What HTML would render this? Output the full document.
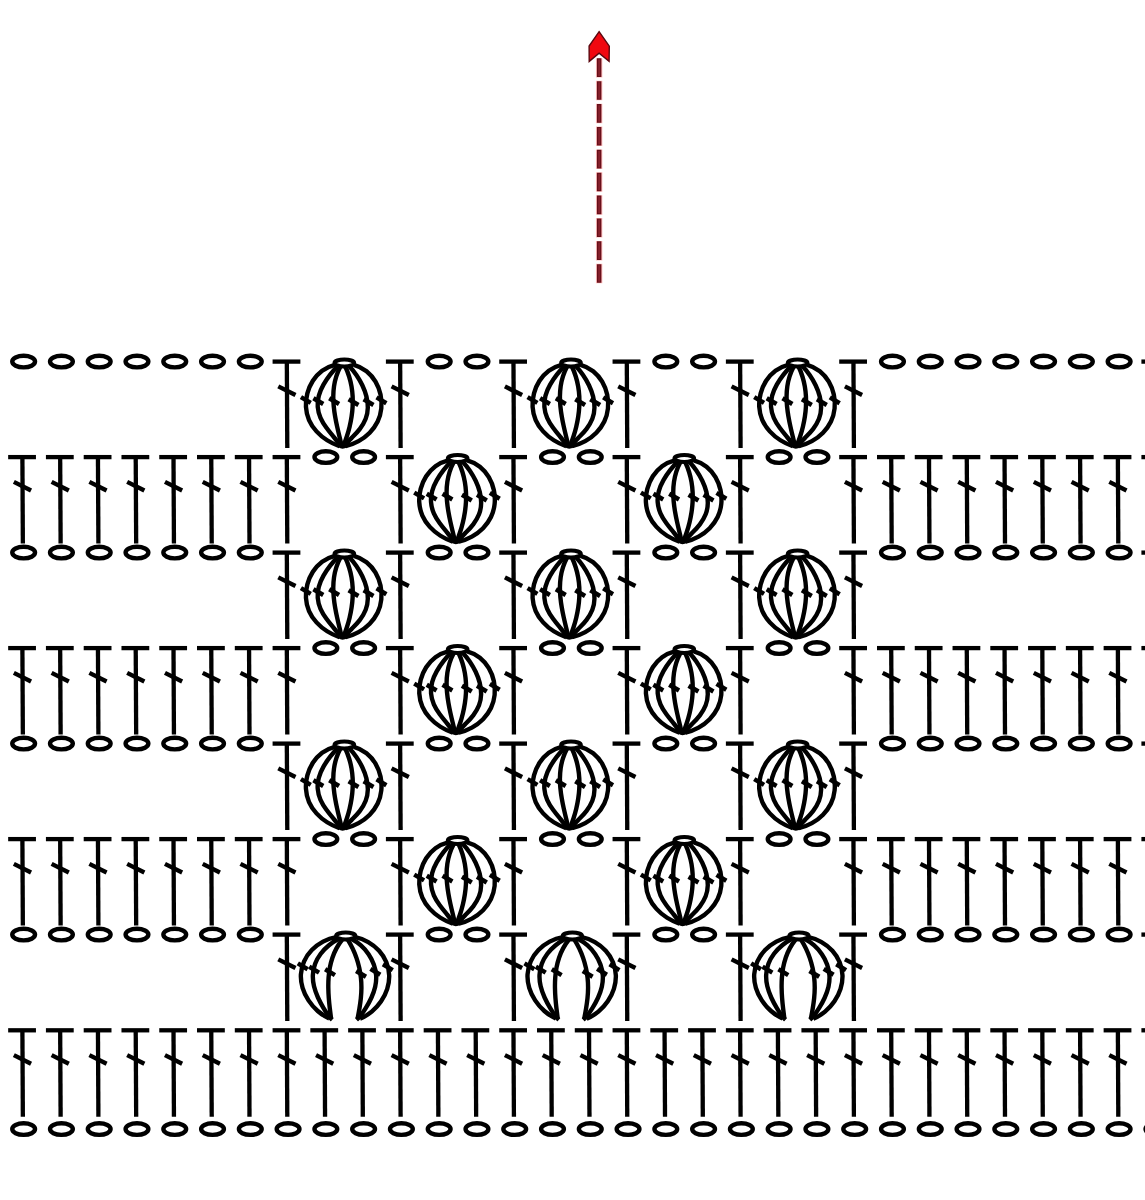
<!DOCTYPE html>
<html><head><meta charset="utf-8"><title>Crochet diagram</title>
<style>
html,body{margin:0;padding:0;background:#fff;font-family:"Liberation Sans",sans-serif;}
svg{display:block}
</style></head>
<body>
<svg width="1145" height="1200" viewBox="0 0 1145 1200">
<rect width="1145" height="1200" fill="#fff"/>
<defs>
<g id="T" stroke="#000" fill="none">
<line x1="-14.7" y1="0" x2="13.1" y2="0" stroke-width="4.3"/>
<line x1="-0.45" y1="0" x2="0" y2="86.4" stroke-width="4.3"/>
<line x1="-9" y1="24.8" x2="8.2" y2="33.4" stroke-width="4.4"/>
</g>
<ellipse id="C" cx="0" cy="0" rx="11.4" ry="5.8" stroke="#000" stroke-width="4.4" fill="none"/>
<g id="tk"><line x1="-4.9" y1="-2.9" x2="4.9" y2="2.9" stroke="#000" stroke-width="4.5"/></g>
<g id="P" stroke="#000" fill="none" stroke-width="4.4">
<ellipse cx="0" cy="1.4" rx="9.8" ry="3.5" stroke-width="4.1"/>
<path d="M-9.50,3.20 C-14.26,4.35 -18.51,6.42 -22.19,9.17 C-25.88,11.92 -28.99,15.34 -31.48,19.19 C-33.96,23.04 -35.82,27.31 -36.99,31.75 C-38.17,36.19 -38.65,40.80 -38.39,45.33 C-38.13,49.86 -37.11,54.30 -35.31,58.42 C-33.50,62.54 -30.93,66.36 -27.84,69.76 C-24.75,73.16 -21.13,76.16 -17.21,78.65 C-13.29,81.14 -9.08,83.12 -4.80,84.50"/>
<path d="M-7.00,4.60 C-9.28,7.14 -11.74,10.01 -14.14,13.11 C-16.54,16.22 -18.86,19.57 -20.84,23.08 C-22.82,26.59 -24.46,30.25 -25.49,33.98 C-26.53,37.71 -26.91,41.52 -26.61,45.27 C-26.32,49.03 -25.37,52.71 -23.83,56.19 C-22.30,59.67 -20.22,62.98 -17.90,66.16 C-15.59,69.34 -13.02,72.39 -10.55,75.38 C-8.07,78.38 -5.69,81.36 -3.80,84.50"/>
<path d="M-4.00,5.20 C-5.68,8.36 -7.02,11.56 -8.05,14.80 C-9.09,18.04 -9.82,21.32 -10.31,24.62 C-10.79,27.92 -11.02,31.25 -11.06,34.59 C-11.09,37.94 -10.92,41.30 -10.60,44.66 C-10.28,48.02 -9.81,51.39 -9.23,54.75 C-8.66,58.11 -7.98,61.46 -7.25,64.79 C-6.51,68.13 -5.73,71.45 -4.94,74.73 C-4.15,78.02 -3.35,81.28 -2.60,84.50"/>
<path d="M1.00,5.20 C2.50,8.38 3.75,11.60 4.77,14.87 C5.79,18.13 6.59,21.44 7.17,24.76 C7.75,28.09 8.12,31.45 8.30,34.81 C8.48,38.18 8.47,41.55 8.28,44.93 C8.10,48.31 7.74,51.68 7.23,55.04 C6.72,58.40 6.06,61.74 5.26,65.06 C4.46,68.37 3.52,71.66 2.48,74.90 C1.43,78.15 0.26,81.35 -1.00,84.50"/>
<path d="M5.00,4.60 C7.42,7.19 9.81,10.15 12.02,13.36 C14.23,16.57 16.26,20.04 17.98,23.65 C19.70,27.26 21.11,31.02 22.07,34.81 C23.03,38.61 23.54,42.45 23.47,46.21 C23.40,49.98 22.73,53.67 21.35,57.19 C19.98,60.72 17.95,64.07 15.57,67.21 C13.19,70.34 10.43,73.22 7.68,75.95 C4.93,78.69 2.24,81.36 0.20,84.50"/>
<path d="M9.50,3.20 C14.33,4.49 18.58,6.71 22.20,9.60 C25.83,12.50 28.83,16.06 31.17,20.04 C33.51,24.02 35.19,28.42 36.17,32.96 C37.15,37.50 37.43,42.19 36.97,46.77 C36.50,51.35 35.30,55.82 33.32,59.92 C31.34,64.02 28.62,67.77 25.38,71.07 C22.13,74.37 18.35,77.21 14.25,79.48 C10.15,81.75 5.73,83.46 1.20,84.50"/>
<path d="M-10.5,81.5 Q-6,87.2 -1.8,87.2 Q3,87.2 6.8,82 Z" fill="#000" stroke="none"/>
<use href="#tk" x="-38.5" y="38.4"/>
<use href="#tk" x="-26" y="39.5"/>
<use href="#tk" x="-10.2" y="39.5"/>
<use href="#tk" x="9.2" y="40.5"/>
<use href="#tk" x="24.2" y="40.5"/>
<use href="#tk" x="37.1" y="38.7"/>
</g>
<g id="Q" stroke="#000" fill="none" stroke-width="4.4">
<ellipse cx="0" cy="1.4" rx="9.6" ry="3.5" stroke-width="4.1"/>
<path d="M-9.50,2.60 C-14.08,3.33 -18.57,4.88 -22.72,7.08 C-26.88,9.28 -30.70,12.13 -33.93,15.47 C-37.17,18.80 -39.79,22.63 -41.64,26.75 C-43.49,30.88 -44.58,35.29 -44.84,39.77 C-45.09,44.25 -44.48,48.79 -43.16,53.19 C-41.84,57.60 -39.80,61.87 -37.22,65.81 C-34.64,69.74 -31.52,73.34 -28.01,76.40 C-24.50,79.47 -20.61,82.00 -16.50,83.80"/>
<path d="M-7.00,4.20 C-10.38,5.98 -13.70,8.16 -16.77,10.68 C-19.83,13.20 -22.65,16.06 -25.02,19.17 C-27.39,22.29 -29.30,25.68 -30.61,29.24 C-31.93,32.80 -32.68,36.54 -32.86,40.32 C-33.04,44.11 -32.62,47.93 -31.72,51.71 C-30.82,55.49 -29.45,59.23 -27.80,62.87 C-26.15,66.51 -24.22,70.05 -22.19,73.43 C-20.16,76.80 -18.04,80.01 -16.00,83.00"/>
<path d="M-3.50,5.00 C-5.75,7.81 -7.66,10.74 -9.29,13.76 C-10.91,16.78 -12.24,19.90 -13.32,23.09 C-14.40,26.27 -15.24,29.53 -15.86,32.85 C-16.48,36.16 -16.90,39.52 -17.14,42.92 C-17.39,46.31 -17.47,49.74 -17.42,53.17 C-17.37,56.61 -17.20,60.05 -16.94,63.49 C-16.68,66.92 -16.34,70.35 -15.95,73.74 C-15.56,77.13 -15.13,80.49 -14.70,83.80"/>
<path d="M2.00,5.00 C3.83,7.95 5.48,10.97 6.94,14.06 C8.41,17.15 9.69,20.31 10.79,23.51 C11.89,26.72 12.81,29.98 13.54,33.28 C14.27,36.57 14.81,39.91 15.17,43.26 C15.53,46.62 15.70,50.00 15.68,53.40 C15.66,56.79 15.44,60.19 15.10,63.59 C14.75,66.99 14.27,70.38 13.71,73.75 C13.16,77.13 12.53,80.48 11.90,83.80"/>
<path d="M5.50,4.20 C9.00,6.02 12.24,8.28 15.16,10.88 C18.07,13.49 20.66,16.43 22.83,19.62 C25.01,22.81 26.78,26.24 28.07,29.81 C29.36,33.38 30.16,37.09 30.41,40.84 C30.65,44.59 30.30,48.38 29.45,52.12 C28.59,55.87 27.26,59.58 25.63,63.18 C23.99,66.78 22.06,70.27 19.99,73.60 C17.93,76.93 15.74,80.08 13.60,83.00"/>
<path d="M9.50,2.60 C14.03,3.51 18.44,5.19 22.50,7.50 C26.56,9.81 30.26,12.74 33.35,16.15 C36.45,19.56 38.92,23.47 40.63,27.65 C42.35,31.84 43.32,36.29 43.46,40.79 C43.60,45.29 42.90,49.83 41.50,54.21 C40.10,58.59 38.01,62.82 35.38,66.68 C32.74,70.55 29.57,74.06 26.01,77.01 C22.44,79.96 18.49,82.36 14.30,84.00"/>
<path d="M-19.5,81.5 L-15,86 L-12.8,83.5 Z" fill="#000" stroke-width="1.2" stroke-linejoin="round"/>
<path d="M17,81.5 L12.3,86 L10,83.5 Z" fill="#000" stroke-width="1.2" stroke-linejoin="round"/>
<use href="#tk" x="-43" y="31.7"/>
<use href="#tk" x="-31.6" y="35.1"/>
<use href="#tk" x="-15.7" y="37.6"/>
<use href="#tk" x="15.3" y="39.3"/>
<use href="#tk" x="29.6" y="37.2"/>
<use href="#tk" x="42.1" y="32.6"/>
</g>
</defs>
<g>
<use href="#C" x="23.65" y="361.6"/>
<use href="#C" x="61.42" y="361.6"/>
<use href="#C" x="99.20" y="361.6"/>
<use href="#C" x="136.97" y="361.6"/>
<use href="#C" x="174.75" y="361.6"/>
<use href="#C" x="212.53" y="361.6"/>
<use href="#C" x="250.30" y="361.6"/>
<use href="#C" x="439.18" y="361.6"/>
<use href="#C" x="476.95" y="361.6"/>
<use href="#C" x="665.82" y="361.6"/>
<use href="#C" x="703.60" y="361.6"/>
<use href="#C" x="892.47" y="361.6"/>
<use href="#C" x="930.25" y="361.6"/>
<use href="#C" x="968.02" y="361.6"/>
<use href="#C" x="1005.80" y="361.6"/>
<use href="#C" x="1043.57" y="361.6"/>
<use href="#C" x="1081.35" y="361.6"/>
<use href="#C" x="1119.12" y="361.6"/>
<use href="#T" x="287.28" y="361.6"/>
<use href="#T" x="400.60" y="361.6"/>
<use href="#T" x="513.92" y="361.6"/>
<use href="#T" x="627.25" y="361.6"/>
<use href="#T" x="740.58" y="361.6"/>
<use href="#T" x="853.90" y="361.6"/>
<use href="#T" x="1156.10" y="361.6"/>
<use href="#P" x="344.34" y="361.6"/>
<use href="#P" x="570.99" y="361.6"/>
<use href="#P" x="797.64" y="361.6"/>
<use href="#T" x="22.85" y="457.1"/>
<use href="#T" x="60.62" y="457.1"/>
<use href="#T" x="98.40" y="457.1"/>
<use href="#T" x="136.17" y="457.1"/>
<use href="#T" x="173.95" y="457.1"/>
<use href="#T" x="211.72" y="457.1"/>
<use href="#T" x="249.50" y="457.1"/>
<use href="#T" x="287.28" y="457.1"/>
<use href="#T" x="400.60" y="457.1"/>
<use href="#T" x="513.92" y="457.1"/>
<use href="#T" x="627.25" y="457.1"/>
<use href="#T" x="740.58" y="457.1"/>
<use href="#T" x="853.90" y="457.1"/>
<use href="#T" x="891.67" y="457.1"/>
<use href="#T" x="929.45" y="457.1"/>
<use href="#T" x="967.23" y="457.1"/>
<use href="#T" x="1005.00" y="457.1"/>
<use href="#T" x="1042.77" y="457.1"/>
<use href="#T" x="1080.55" y="457.1"/>
<use href="#T" x="1118.32" y="457.1"/>
<use href="#T" x="1156.10" y="457.1"/>
<use href="#C" x="325.85" y="457.1"/>
<use href="#C" x="363.62" y="457.1"/>
<use href="#C" x="552.50" y="457.1"/>
<use href="#C" x="590.27" y="457.1"/>
<use href="#C" x="779.15" y="457.1"/>
<use href="#C" x="816.92" y="457.1"/>
<use href="#P" x="457.66" y="457.1"/>
<use href="#P" x="684.31" y="457.1"/>
<use href="#C" x="23.65" y="552.6"/>
<use href="#C" x="61.42" y="552.6"/>
<use href="#C" x="99.20" y="552.6"/>
<use href="#C" x="136.97" y="552.6"/>
<use href="#C" x="174.75" y="552.6"/>
<use href="#C" x="212.53" y="552.6"/>
<use href="#C" x="250.30" y="552.6"/>
<use href="#C" x="439.18" y="552.6"/>
<use href="#C" x="476.95" y="552.6"/>
<use href="#C" x="665.82" y="552.6"/>
<use href="#C" x="703.60" y="552.6"/>
<use href="#C" x="892.47" y="552.6"/>
<use href="#C" x="930.25" y="552.6"/>
<use href="#C" x="968.02" y="552.6"/>
<use href="#C" x="1005.80" y="552.6"/>
<use href="#C" x="1043.57" y="552.6"/>
<use href="#C" x="1081.35" y="552.6"/>
<use href="#C" x="1119.12" y="552.6"/>
<use href="#T" x="287.28" y="552.6"/>
<use href="#T" x="400.60" y="552.6"/>
<use href="#T" x="513.92" y="552.6"/>
<use href="#T" x="627.25" y="552.6"/>
<use href="#T" x="740.58" y="552.6"/>
<use href="#T" x="853.90" y="552.6"/>
<use href="#T" x="1156.10" y="552.6"/>
<use href="#P" x="344.34" y="552.6"/>
<use href="#P" x="570.99" y="552.6"/>
<use href="#P" x="797.64" y="552.6"/>
<use href="#T" x="22.85" y="648.1"/>
<use href="#T" x="60.62" y="648.1"/>
<use href="#T" x="98.40" y="648.1"/>
<use href="#T" x="136.17" y="648.1"/>
<use href="#T" x="173.95" y="648.1"/>
<use href="#T" x="211.72" y="648.1"/>
<use href="#T" x="249.50" y="648.1"/>
<use href="#T" x="287.28" y="648.1"/>
<use href="#T" x="400.60" y="648.1"/>
<use href="#T" x="513.92" y="648.1"/>
<use href="#T" x="627.25" y="648.1"/>
<use href="#T" x="740.58" y="648.1"/>
<use href="#T" x="853.90" y="648.1"/>
<use href="#T" x="891.67" y="648.1"/>
<use href="#T" x="929.45" y="648.1"/>
<use href="#T" x="967.23" y="648.1"/>
<use href="#T" x="1005.00" y="648.1"/>
<use href="#T" x="1042.77" y="648.1"/>
<use href="#T" x="1080.55" y="648.1"/>
<use href="#T" x="1118.32" y="648.1"/>
<use href="#T" x="1156.10" y="648.1"/>
<use href="#C" x="325.85" y="648.1"/>
<use href="#C" x="363.62" y="648.1"/>
<use href="#C" x="552.50" y="648.1"/>
<use href="#C" x="590.27" y="648.1"/>
<use href="#C" x="779.15" y="648.1"/>
<use href="#C" x="816.92" y="648.1"/>
<use href="#P" x="457.66" y="648.1"/>
<use href="#P" x="684.31" y="648.1"/>
<use href="#C" x="23.65" y="743.6"/>
<use href="#C" x="61.42" y="743.6"/>
<use href="#C" x="99.20" y="743.6"/>
<use href="#C" x="136.97" y="743.6"/>
<use href="#C" x="174.75" y="743.6"/>
<use href="#C" x="212.53" y="743.6"/>
<use href="#C" x="250.30" y="743.6"/>
<use href="#C" x="439.18" y="743.6"/>
<use href="#C" x="476.95" y="743.6"/>
<use href="#C" x="665.82" y="743.6"/>
<use href="#C" x="703.60" y="743.6"/>
<use href="#C" x="892.47" y="743.6"/>
<use href="#C" x="930.25" y="743.6"/>
<use href="#C" x="968.02" y="743.6"/>
<use href="#C" x="1005.80" y="743.6"/>
<use href="#C" x="1043.57" y="743.6"/>
<use href="#C" x="1081.35" y="743.6"/>
<use href="#C" x="1119.12" y="743.6"/>
<use href="#T" x="287.28" y="743.6"/>
<use href="#T" x="400.60" y="743.6"/>
<use href="#T" x="513.92" y="743.6"/>
<use href="#T" x="627.25" y="743.6"/>
<use href="#T" x="740.58" y="743.6"/>
<use href="#T" x="853.90" y="743.6"/>
<use href="#T" x="1156.10" y="743.6"/>
<use href="#P" x="344.34" y="743.6"/>
<use href="#P" x="570.99" y="743.6"/>
<use href="#P" x="797.64" y="743.6"/>
<use href="#T" x="22.85" y="839.1"/>
<use href="#T" x="60.62" y="839.1"/>
<use href="#T" x="98.40" y="839.1"/>
<use href="#T" x="136.17" y="839.1"/>
<use href="#T" x="173.95" y="839.1"/>
<use href="#T" x="211.72" y="839.1"/>
<use href="#T" x="249.50" y="839.1"/>
<use href="#T" x="287.28" y="839.1"/>
<use href="#T" x="400.60" y="839.1"/>
<use href="#T" x="513.92" y="839.1"/>
<use href="#T" x="627.25" y="839.1"/>
<use href="#T" x="740.58" y="839.1"/>
<use href="#T" x="853.90" y="839.1"/>
<use href="#T" x="891.67" y="839.1"/>
<use href="#T" x="929.45" y="839.1"/>
<use href="#T" x="967.23" y="839.1"/>
<use href="#T" x="1005.00" y="839.1"/>
<use href="#T" x="1042.77" y="839.1"/>
<use href="#T" x="1080.55" y="839.1"/>
<use href="#T" x="1118.32" y="839.1"/>
<use href="#T" x="1156.10" y="839.1"/>
<use href="#C" x="325.85" y="839.1"/>
<use href="#C" x="363.62" y="839.1"/>
<use href="#C" x="552.50" y="839.1"/>
<use href="#C" x="590.27" y="839.1"/>
<use href="#C" x="779.15" y="839.1"/>
<use href="#C" x="816.92" y="839.1"/>
<use href="#P" x="457.66" y="839.1"/>
<use href="#P" x="684.31" y="839.1"/>
<use href="#C" x="23.65" y="934.6"/>
<use href="#C" x="61.42" y="934.6"/>
<use href="#C" x="99.20" y="934.6"/>
<use href="#C" x="136.97" y="934.6"/>
<use href="#C" x="174.75" y="934.6"/>
<use href="#C" x="212.53" y="934.6"/>
<use href="#C" x="250.30" y="934.6"/>
<use href="#C" x="439.18" y="934.6"/>
<use href="#C" x="476.95" y="934.6"/>
<use href="#C" x="665.82" y="934.6"/>
<use href="#C" x="703.60" y="934.6"/>
<use href="#C" x="892.47" y="934.6"/>
<use href="#C" x="930.25" y="934.6"/>
<use href="#C" x="968.02" y="934.6"/>
<use href="#C" x="1005.80" y="934.6"/>
<use href="#C" x="1043.57" y="934.6"/>
<use href="#C" x="1081.35" y="934.6"/>
<use href="#C" x="1119.12" y="934.6"/>
<use href="#T" x="287.28" y="934.6"/>
<use href="#T" x="400.60" y="934.6"/>
<use href="#T" x="513.92" y="934.6"/>
<use href="#T" x="627.25" y="934.6"/>
<use href="#T" x="740.58" y="934.6"/>
<use href="#T" x="853.90" y="934.6"/>
<use href="#T" x="1156.10" y="934.6"/>
<use href="#Q" x="345.74" y="934.6"/>
<use href="#Q" x="572.39" y="934.6"/>
<use href="#Q" x="799.04" y="934.6"/>
<use href="#T" x="22.85" y="1030.3"/>
<use href="#T" x="60.62" y="1030.3"/>
<use href="#T" x="98.40" y="1030.3"/>
<use href="#T" x="136.17" y="1030.3"/>
<use href="#T" x="173.95" y="1030.3"/>
<use href="#T" x="211.72" y="1030.3"/>
<use href="#T" x="249.50" y="1030.3"/>
<use href="#T" x="287.28" y="1030.3"/>
<use href="#T" x="325.05" y="1030.3"/>
<use href="#T" x="362.82" y="1030.3"/>
<use href="#T" x="400.60" y="1030.3"/>
<use href="#T" x="438.38" y="1030.3"/>
<use href="#T" x="476.15" y="1030.3"/>
<use href="#T" x="513.92" y="1030.3"/>
<use href="#T" x="551.70" y="1030.3"/>
<use href="#T" x="589.48" y="1030.3"/>
<use href="#T" x="627.25" y="1030.3"/>
<use href="#T" x="665.02" y="1030.3"/>
<use href="#T" x="702.80" y="1030.3"/>
<use href="#T" x="740.58" y="1030.3"/>
<use href="#T" x="778.35" y="1030.3"/>
<use href="#T" x="816.12" y="1030.3"/>
<use href="#T" x="853.90" y="1030.3"/>
<use href="#T" x="891.67" y="1030.3"/>
<use href="#T" x="929.45" y="1030.3"/>
<use href="#T" x="967.23" y="1030.3"/>
<use href="#T" x="1005.00" y="1030.3"/>
<use href="#T" x="1042.77" y="1030.3"/>
<use href="#T" x="1080.55" y="1030.3"/>
<use href="#T" x="1118.32" y="1030.3"/>
<use href="#T" x="1156.10" y="1030.3"/>
<use href="#C" x="23.65" y="1129.1"/>
<use href="#C" x="61.42" y="1129.1"/>
<use href="#C" x="99.20" y="1129.1"/>
<use href="#C" x="136.97" y="1129.1"/>
<use href="#C" x="174.75" y="1129.1"/>
<use href="#C" x="212.53" y="1129.1"/>
<use href="#C" x="250.30" y="1129.1"/>
<use href="#C" x="288.08" y="1129.1"/>
<use href="#C" x="325.85" y="1129.1"/>
<use href="#C" x="363.62" y="1129.1"/>
<use href="#C" x="401.40" y="1129.1"/>
<use href="#C" x="439.18" y="1129.1"/>
<use href="#C" x="476.95" y="1129.1"/>
<use href="#C" x="514.72" y="1129.1"/>
<use href="#C" x="552.50" y="1129.1"/>
<use href="#C" x="590.27" y="1129.1"/>
<use href="#C" x="628.05" y="1129.1"/>
<use href="#C" x="665.82" y="1129.1"/>
<use href="#C" x="703.60" y="1129.1"/>
<use href="#C" x="741.38" y="1129.1"/>
<use href="#C" x="779.15" y="1129.1"/>
<use href="#C" x="816.92" y="1129.1"/>
<use href="#C" x="854.70" y="1129.1"/>
<use href="#C" x="892.47" y="1129.1"/>
<use href="#C" x="930.25" y="1129.1"/>
<use href="#C" x="968.02" y="1129.1"/>
<use href="#C" x="1005.80" y="1129.1"/>
<use href="#C" x="1043.57" y="1129.1"/>
<use href="#C" x="1081.35" y="1129.1"/>
<use href="#C" x="1119.12" y="1129.1"/>
<use href="#C" x="1156.90" y="1129.1"/>
</g>
<g>
<line x1="599.15" y1="58.3" x2="599.15" y2="283.3" stroke="#ff5a5a" stroke-width="6.4" stroke-dasharray="19.5 3.37" stroke-dashoffset="0.3" opacity="0.4"/>
<line x1="599.15" y1="58.3" x2="599.15" y2="283.3" stroke="#650f19" stroke-width="4.5" stroke-dasharray="18.7 4.17"/>
<line x1="599.15" y1="59.5" x2="599.15" y2="283.3" stroke="#86202c" stroke-width="2" stroke-dasharray="16.5 6.37"/>
<path d="M599.1,31.6 L609.3,46.2 L609.1,61.4 L599.1,53.2 L589.2,61.4 L589.1,46 Z" fill="#f00810" stroke="#5a0810" stroke-width="1.4" stroke-linejoin="miter"/>
</g>
</svg>
</body></html>
